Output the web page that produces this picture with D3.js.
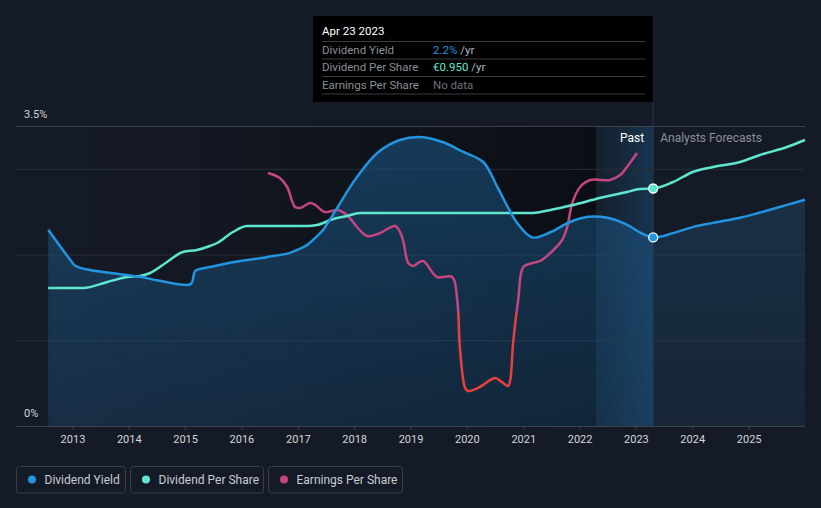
<!DOCTYPE html>
<html>
<head>
<meta charset="utf-8">
<script src="https://cdn.jsdelivr.net/npm/d3@7"></script>
<style>
  body { margin: 0; background: #151b26; }
  svg { display: block; font-family: Roboto, "Open Sans", sans-serif; }
</style>
</head>
<body>
<div id="chart"></div>
<script>
// years as decimals
const yieldYears = [2012.57, 2012.96, 2013.05, 2013.31, 2013.62, 2014.2, 2014.5, 2015.05, 2015.12, 2015.18, 2015.32, 2015.44,
  2015.85, 2016.45, 2016.86, 2017.04, 2017.16, 2017.3, 2017.45, 2017.6, 2017.75, 2017.9, 2018.05, 2018.41, 2018.81,
  2019.22, 2019.58, 2019.93, 2020.29, 2020.54, 2020.77, 2020.89, 2021.16, 2021.48, 2021.83, 2022.15, 2022.49, 2022.84,
  2023.07, 2023.31, 2023.66, 2024.01, 2024.37, 2024.85, 2025.2, 2025.68, 2026.0]
const yieldValues = [2.29, 1.94, 1.87, 1.82, 1.79, 1.74, 1.70, 1.645, 1.67, 1.81, 1.84, 1.855,
  1.91, 1.97, 2.02, 2.07, 2.11, 2.19, 2.29, 2.44, 2.6, 2.76, 2.905, 3.185, 3.337,
  3.37, 3.31, 3.2, 3.08, 2.79, 2.5, 2.37, 2.2, 2.26, 2.38, 2.44, 2.43, 2.35,
  2.26, 2.2, 2.25, 2.32, 2.37, 2.43, 2.49, 2.58, 2.64]

const dpsYears = [2012.57, 2013.19, 2013.62, 2013.97, 2014.2, 2014.38, 2014.68, 2014.96, 2015.21, 2015.44, 2015.57, 2015.85,
  2016.1, 2017.16, 2017.34, 2017.63, 2017.87, 2018.1, 2021.17, 2021.48, 2021.88, 2022.36, 2022.84, 2023.07, 2023.31,
  2023.66, 2024.01, 2024.37, 2024.85, 2025.2, 2025.68, 2026.0]
const dpsValues = [0.552, 0.552, 0.576, 0.596, 0.6, 0.612, 0.656, 0.696, 0.704, 0.72, 0.732, 0.776,
  0.8, 0.8, 0.804, 0.828, 0.84, 0.852, 0.852, 0.864, 0.884, 0.912, 0.936, 0.948, 0.95,
  0.976, 1.016, 1.036, 1.056, 1.084, 1.116, 1.144]

const epsYears = [2016.47, 2016.68, 2016.81, 2016.95, 2017.04, 2017.22, 2017.31, 2017.48, 2017.71, 2017.87, 2018.05, 2018.23,
  2018.46, 2018.73, 2018.85, 2018.96, 2019.04, 2019.22, 2019.47, 2019.74, 2019.83, 2019.88, 2019.97, 2020.02, 2020.23,
  2020.5, 2020.62, 2020.73, 2020.77, 2020.82, 2020.91, 2021.0, 2021.17, 2021.3, 2021.48, 2021.69, 2021.78, 2021.87,
  2022.01, 2022.19, 2022.54, 2022.72, 2022.84, 2023.02]
const epsValues = [1.4, 1.35, 1.26, 1.06, 1.05, 1.1, 1.08, 1.01, 1.03, 0.98, 0.86, 0.77,
  0.8, 0.87, 0.76, 0.5, 0.47, 0.52, 0.36, 0.36, 0.13, -0.37, -0.75, -0.78, -0.74,
  -0.65, -0.69, -0.73, -0.67, -0.3, 0.13, 0.46, 0.5, 0.52, 0.6, 0.73, 0.86, 1.1,
  1.26, 1.33, 1.33, 1.38, 1.46, 1.6]

const yTickLabels = ["0%", "3.5%"]
const gridValues = [1, 2, 3, 3.5]
const tooltipRows = [
  { label: "Dividend Yield", value: "2.2%", unit: " /yr", color: "#2394df" },
  { label: "Dividend Per Share", value: "€0.950", unit: " /yr", color: "#5fe6cf" },
  { label: "Earnings Per Share", value: "No data", unit: "", color: "#6b7079" }
]
const legendItems = [
  { name: "Dividend Yield", color: "#2394df" },
  { name: "Dividend Per Share", color: "#5fe6cf" },
  { name: "Earnings Per Share", color: "#c4457f" }
]

const width = 821
const height = 508
const svg = d3.select("#chart").append("svg").attr("width", width).attr("height", height)

function fromYear(y) {
  const yr = Math.floor(y)
  const start = new Date(yr, 0, 1)
  const end = new Date(yr + 1, 0, 1)
  return new Date(start.getTime() + (y - yr) * (end - start))
}

const x = d3.scaleTime().domain([new Date(2012, 0, 1), new Date(2026, 0, 1)]).range([16, 805])
const yYield = d3.scaleLinear().domain([0, 3.5]).range([426, 126])
const yDps = d3.scaleLinear().domain([0, 1.2]).range([426, 126])
const yEps = d3.scaleLinear().domain([-1.13, 1.87]).range([426, 126])

const nowDate = new Date(2023, 3, 23)
const pastStart = new Date(2022, 3, 23)
const xNow = x(nowDate)
const xStart = x(fromYear(yieldYears[0]))

const yieldData = yieldYears.map((t, i) => ({ date: fromYear(t), value: yieldValues[i] }))
const dpsData = dpsYears.map((t, i) => ({ date: fromYear(t), value: dpsValues[i] }))
const epsData = epsYears.map((t, i) => ({ date: fromYear(t), value: epsValues[i] }))

const defs = svg.append("defs")

const bgGrad = defs.append("linearGradient").attr("id", "bgGrad")
bgGrad.append("stop").attr("offset", "0%").attr("stop-color", "#151b26")
bgGrad.append("stop").attr("offset", "100%").attr("stop-color", "#0b0e14")

const bandGrad = defs.append("linearGradient").attr("id", "bandGrad")
bandGrad.append("stop").attr("offset", "0%").attr("stop-color", "#1d6fae").attr("stop-opacity", 0.05)
bandGrad.append("stop").attr("offset", "100%").attr("stop-color", "#1d6fae").attr("stop-opacity", 0.3)

const areaGrad = defs.append("linearGradient").attr("id", "areaGrad")
  .attr("x1", 0).attr("y1", 0).attr("x2", 0).attr("y2", 1)
areaGrad.append("stop").attr("offset", "0%").attr("stop-color", "#1c5a8c").attr("stop-opacity", 0.55)
areaGrad.append("stop").attr("offset", "100%").attr("stop-color", "#1c5a8c").attr("stop-opacity", 0.3)

const foreGrad = defs.append("linearGradient").attr("id", "foreGrad")
  .attr("x1", 0).attr("y1", 0).attr("x2", 0).attr("y2", 1)
foreGrad.append("stop").attr("offset", "0%").attr("stop-color", "#1f4f78").attr("stop-opacity", 0.45)
foreGrad.append("stop").attr("offset", "100%").attr("stop-color", "#1f4f78").attr("stop-opacity", 0.2)

// pink above zero, red below
const zeroOffset = (yEps(0) - 126) / 300
const epsGrad = defs.append("linearGradient").attr("id", "epsGrad")
  .attr("gradientUnits", "userSpaceOnUse").attr("x1", 0).attr("y1", 126).attr("x2", 0).attr("y2", 426)
epsGrad.append("stop").attr("offset", zeroOffset).attr("stop-color", "#c4457f")
epsGrad.append("stop").attr("offset", zeroOffset).attr("stop-color", "#e8403d")

defs.append("clipPath").attr("id", "clipPast").append("rect")
  .attr("x", 0).attr("y", 0).attr("width", xNow).attr("height", 426)
defs.append("clipPath").attr("id", "clipFore").append("rect")
  .attr("x", xNow).attr("y", 0).attr("width", width - xNow).attr("height", 426)

// backgrounds
svg.append("rect").attr("x", xStart).attr("y", 126).attr("width", x(pastStart) - xStart).attr("height", 300)
  .attr("fill", "url(#bgGrad)")
svg.append("rect").attr("x", x(pastStart)).attr("y", 126).attr("width", xNow - x(pastStart)).attr("height", 300)
  .attr("fill", "url(#bandGrad)")
svg.append("line").attr("x1", x(pastStart)).attr("x2", x(pastStart)).attr("y1", 126).attr("y2", 426)
  .attr("stroke", "#1c2b3a").attr("stroke-width", 1)

// grid
svg.selectAll(".grid").data(gridValues).join("line")
  .attr("x1", 16).attr("x2", 805)
  .attr("y1", d => yYield(d) + 0.5).attr("y2", d => yYield(d) + 0.5)
  .attr("stroke", d => d === 3.5 ? "#3d424c" : "#272d37").attr("stroke-width", 1)

// smooth curves like the original
const smooth = d3.curveCatmullRom.alpha(0.5)

// areas
const yieldArea = d3.area().x(d => x(d.date)).y0(426).y1(d => yYield(d.value)).curve(smooth)
svg.append("path").datum(yieldData).attr("d", yieldArea).attr("fill", "url(#areaGrad)").attr("clip-path", "url(#clipPast)")
svg.append("path").datum(yieldData).attr("d", yieldArea).attr("fill", "url(#foreGrad)").attr("clip-path", "url(#clipFore)")

// now line
svg.append("line").attr("x1", xNow).attr("x2", xNow).attr("y1", 16).attr("y2", 426)
  .attr("stroke", "#24384c").attr("stroke-width", 1)

// x axis
svg.append("line").attr("x1", 16).attr("x2", 805).attr("y1", 426.5).attr("y2", 426.5)
  .attr("stroke", "#3d424c")
const xAxis = svg.append("g").attr("transform", "translate(0,426)")
  .call(d3.axisBottom(x).ticks(d3.timeYear.every(1)).tickSize(4).tickFormat(d3.timeFormat("%Y")))
xAxis.select(".domain").remove()
xAxis.selectAll(".tick line").attr("stroke", "#3d424c")
xAxis.selectAll(".tick text").attr("fill", "#d3d6db").attr("font-size", 11).attr("dy", "0.9em")
  .attr("font-family", "Roboto, sans-serif")
xAxis.selectAll(".tick").filter(d => d.getFullYear() < 2013 || d.getFullYear() > 2025).remove()

// y labels
svg.selectAll(".ylab").data(yTickLabels).join("text")
  .attr("x", 24).attr("y", (d, i) => i === 0 ? 417 : 118)
  .attr("fill", "#d3d6db").attr("font-size", 11).text(d => d)

// lines
const line = (yScale, curve) => d3.line().x(d => x(d.date)).y(d => yScale(d.value)).curve(curve)
svg.append("path").datum(epsData).attr("d", line(yEps, smooth)).attr("fill", "none")
  .attr("stroke", "url(#epsGrad)").attr("stroke-width", 2.5).attr("stroke-linejoin", "round")
svg.append("path").datum(dpsData).attr("d", line(yDps, d3.curveMonotoneX)).attr("fill", "none")
  .attr("stroke", "#5fe6cf").attr("stroke-width", 2.5)
svg.append("path").datum(yieldData).attr("d", line(yYield, smooth)).attr("fill", "none")
  .attr("stroke", "#2394df").attr("stroke-width", 2.5)

// markers at now
svg.append("circle").attr("cx", xNow).attr("cy", yDps(0.95)).attr("r", 4.5)
  .attr("fill", "#5fe6cf").attr("stroke", "#ffffff").attr("stroke-width", 1.3)
svg.append("circle").attr("cx", xNow).attr("cy", yYield(2.2)).attr("r", 4.5)
  .attr("fill", "#2394df").attr("stroke", "#ffffff").attr("stroke-width", 1.3)

// past / forecasts labels
svg.append("text").attr("x", xNow - 9).attr("y", 142).attr("text-anchor", "end")
  .attr("fill", "#ffffff").attr("font-size", 12).text("Past")
svg.append("text").attr("x", xNow + 7).attr("y", 142)
  .attr("fill", "#8b9099").attr("font-size", 12).text("Analysts Forecasts")

// tooltip
const tip = svg.append("g")
tip.append("rect").attr("x", 313).attr("y", 16).attr("width", xNow - 313).attr("height", 86).attr("fill", "#000000")
tip.append("text").attr("x", 322).attr("y", 35).attr("fill", "#ffffff").attr("font-size", 11.5).text("Apr 23 2023")
const rowY = [41, 58.5, 76, 93.5]
tip.selectAll(".sep").data(rowY).join("line")
  .attr("x1", 322).attr("x2", 645).attr("y1", d => d + 0.5).attr("y2", d => d + 0.5)
  .attr("stroke", "#3a3d42")
tooltipRows.forEach((r, i) => {
  const ty = rowY[i] + 12.5
  tip.append("text").attr("x", 322).attr("y", ty).attr("fill", "#8a8e96").attr("font-size", 11.5).text(r.label)
  const t = tip.append("text").attr("x", 433).attr("y", ty).attr("font-size", 11.5)
  t.append("tspan").attr("fill", r.color).text(r.value)
  t.append("tspan").attr("fill", "#b5b9c0").text(r.unit)
})

// legend
const legendX = [16.5, 130.5, 268.5]
const legendW = [109, 133, 134]
const lg = svg.selectAll(".legend").data(legendItems).join("g")
  .attr("transform", (d, i) => `translate(${legendX[i]},466.5)`)
lg.append("rect").attr("width", (d, i) => legendW[i]).attr("height", 26.5).attr("rx", 3)
  .attr("fill", "none").attr("stroke", "#3a3f49")
lg.append("circle").attr("cx", 15.5).attr("cy", 13).attr("r", 4).attr("fill", d => d.color)
lg.append("text").attr("x", 28).attr("y", 17.5).attr("fill", "#c9ccd2").attr("font-size", 12).text(d => d.name)
</script>
</body>
</html>
